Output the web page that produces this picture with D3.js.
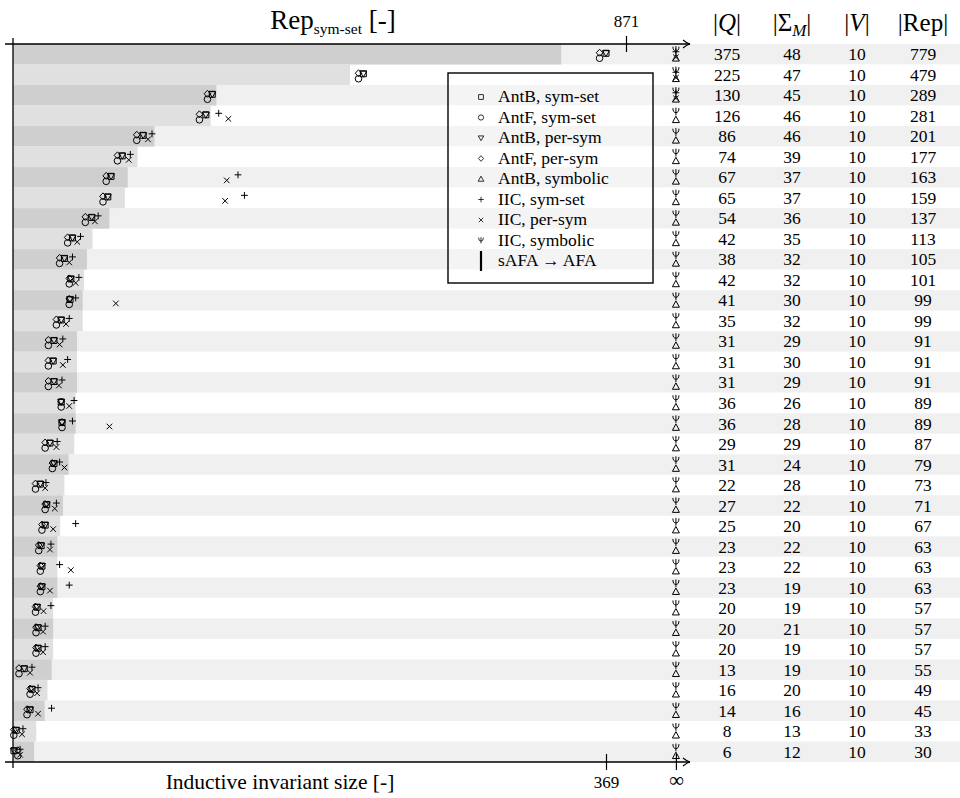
<!DOCTYPE html>
<html><head><meta charset="utf-8">
<script src="https://cdn.jsdelivr.net/npm/d3@7"></script>
<style>
body{margin:0;background:#fff;}
svg{display:block;font-family:"Liberation Serif","DejaVu Serif",serif;}
</style></head><body>
<svg id="chart" width="960" height="798"></svg>
<script>
const I = Infinity;
// automaton statistics per benchmark
const qStates = [375,225,130,126,86,74,67,65,54,42,38,42,41,35,31,31,31,36,36,29,31,22,27,25,23,23,23,20,20,20,13,16,14,8,6];
const sigmaM  = [48,47,45,46,46,39,37,37,36,35,32,32,30,32,29,30,29,26,28,29,24,28,22,20,22,22,19,19,21,19,19,20,16,13,12];
const varCount = [10,10,10,10,10,10,10,10,10,10,10,10,10,10,10,10,10,10,10,10,10,10,10,10,10,10,10,10,10,10,10,10,10,10,10];
const repSize = [779,479,289,281,201,177,163,159,137,113,105,101,99,99,91,91,91,89,89,87,79,73,71,67,63,63,63,57,57,57,55,49,45,33,30];

// inductive invariant sizes (Infinity = no result)
const antBSymSet   = [369,218,124,120,81,68,61,59,49,37,32,36,35.5,30,25.5,25,25.5,30,30.5,23,25.5,17,21,20,17.5,18,18,15,15.6,15.6,7,11.8,10.6,2,0.6];
const antFSymSet   = [365,215,121,116,77,65,58,56,45,34,29,35,35,27,22,22,22,30,30.5,20,24.5,14,20,18,16,17,17,14,14.3,14.3,3.7,10.6,8.7,0.5,3];
const antBPerSym   = [369,218,124,120,81,68,61,59,49,37,32,36,35.5,30,25.5,25,25.5,30,30.5,23,25.5,17,21,20,17.5,18,18,15,15.6,15.6,7,11.8,10.6,2,0.6];
const antFPerSym   = [365,215,121,116,77,65,58,56,45,34,29,35,35,27,22,22,22,30,30.5,20,24.5,14,20,18,16,17,17,14,14.3,14.3,3.7,10.6,8.7,0.5,3];
const antBSymbolic = [I,I,I,I,I,I,I,I,I,I,I,I,I,I,I,I,I,I,I,I,I,I,I,I,I,I,I,I,I,I,I,I,I,I,I];
const iicSymSet    = [I,I,I,128,86.5,73,140,144,53,42,37,41,39,35,31,34,30.5,38,37,27.5,29,20.5,27,39,23.6,29,35,23.6,20,20,11.8,15.6,24,6.2,4.4];
const iicPerSym    = [I,I,I,134,84,72,133,132,51,40,35,39,64,33,29,31,28.6,35,60,27,32,20,26,25,23,36,23,19,18.7,18.7,10.6,15,15.6,5.6,4.4];
const iicSymbolic  = [I,I,I,I,I,I,I,I,I,I,I,I,I,I,I,I,I,I,I,I,I,I,I,I,I,I,I,I,I,I,I,I,I,I,I];

const repTicks = [871];
const invTicks = [369];
const INF_SLOT = 412.5;   // where "no result" is placed on the invariant axis

const svg = d3.select("#chart");
const W = 960;
const plotLeft = 13, plotTop = 44, plotBottom = 762;

const xRep = d3.scaleLinear().domain([0, 871]).range([plotLeft, 626]);
const xInv = d3.scaleLinear().domain([0, 369]).range([plotLeft, 606]);
const y = d3.scaleBand().domain(d3.range(repSize.length)).range([plotTop, plotBottom]).padding(0);
const invX = v => xInv(Number.isFinite(v) ? v : INF_SLOT);

// row stripes
svg.append("g").selectAll("rect").data(repSize).join("rect")
  .attr("x", plotLeft).attr("y", (d,i) => y(i))
  .attr("width", W - plotLeft).attr("height", y.bandwidth())
  .attr("fill", (d,i) => i % 2 === 0 ? "#f0f0f0" : "#ffffff");

// Rep bars
svg.append("g").selectAll("rect").data(repSize).join("rect")
  .attr("x", xRep(0)).attr("y", (d,i) => y(i))
  .attr("width", d => xRep(d) - xRep(0)).attr("height", y.bandwidth())
  .attr("fill", (d,i) => i % 2 === 0 ? "#cfcfcf" : "#e0e0e0");

// marker shapes
const shapes = {
  square:  "M-3,-3H3V3H-3Z",
  circle:  "M3.3,0A3.3,3.3 0 1 1 -3.3,0A3.3,3.3 0 1 1 3.3,0Z",
  triDown: "M-3.4,-2.6L3.4,-2.6L0,3.4Z",
  diamond: "M0,-3.5L3.3,0L0,3.5L-3.3,0Z",
  triUp:   "M0,-3.6L3.5,2.8L-3.5,2.8Z",
  plus:    "M-3.4,0H3.4M0,-3.4V3.4",
  cross:   "M-2.8,-2.8L2.8,2.8M-2.8,2.8L2.8,-2.8",
  psi:     "M-3,-3.6Q-3,0.8 0,0.8Q3,0.8 3,-3.6M0,-4.2V3.6"
};

const series = [
  {name: "AntB, sym-set",  data: antBSymSet,   shape: "square",  dy: -1},
  {name: "AntF, sym-set",  data: antFSymSet,   shape: "circle",  dy: 4},
  {name: "AntB, per-sym",  data: antBPerSym,   shape: "triDown", dy: -1},
  {name: "AntF, per-sym",  data: antFPerSym,   shape: "diamond", dy: -1.5},
  {name: "AntB, symbolic", data: antBSymbolic, shape: "triUp",   dy: 4},
  {name: "IIC, sym-set",   data: iicSymSet,    shape: "plus",    dy: -2.5},
  {name: "IIC, per-sym",   data: iicPerSym,    shape: "cross",   dy: 3},
  {name: "IIC, symbolic",  data: iicSymbolic,  shape: "psi",     dy: -4}
];

const marks = svg.append("g").attr("fill", "none").attr("stroke", "#000").attr("stroke-width", 1);
series.forEach(s => {
  marks.append("g").selectAll("path").data(s.data).join("path")
    .attr("d", shapes[s.shape])
    .attr("transform", (d,i) => `translate(${invX(d)},${y(i) + y.bandwidth()/2 + s.dy})`);
});

// axes
const arrow = svg.append("defs").append("marker")
  .attr("id", "arr").attr("viewBox", "-6 -5 10 10").attr("markerWidth", 10).attr("markerHeight", 10)
  .attr("refX", 2).attr("refY", 0).attr("orient", "auto").attr("markerUnits", "userSpaceOnUse");
arrow.append("path").attr("d", "M-5,-4Q-1,-0.6 2,0Q-1,0.6 -5,4").attr("fill", "none").attr("stroke", "#000").attr("stroke-width", 1.1);

const axisG = svg.append("g").attr("stroke", "#000").attr("stroke-width", 1.3);
axisG.append("line").attr("x1", 5).attr("x2", 690).attr("y1", plotTop).attr("y2", plotTop).attr("marker-end", "url(#arr)");
axisG.append("line").attr("x1", 5).attr("x2", 690).attr("y1", plotBottom).attr("y2", plotBottom).attr("marker-end", "url(#arr)");
axisG.append("line").attr("x1", plotLeft).attr("x2", plotLeft).attr("y1", plotTop - 6).attr("y2", plotBottom + 6);

const topAxis = svg.append("g").attr("transform", `translate(0,${plotTop})`)
  .call(d3.axisTop(xRep).tickValues(repTicks).tickSize(8).tickPadding(9));
const botAxis = svg.append("g").attr("transform", `translate(0,${plotBottom})`)
  .call(d3.axisBottom(xInv).tickValues(invTicks.concat([INF_SLOT])).tickSize(8).tickPadding(6)
        .tickFormat(d => d === INF_SLOT ? "∞" : d3.format("d")(d)));
[topAxis, botAxis].forEach(g => {
  g.select(".domain").remove();
  g.selectAll(".tick line").attr("y1", -8).attr("y2", 8).attr("stroke-width", 1.2);
  g.selectAll(".tick text").attr("font-family", "Liberation Serif, serif").attr("font-size", 17).attr("fill", "#000");
});
botAxis.selectAll(".tick text").filter(d => d === INF_SLOT).attr("font-size", 21).attr("dy", "0.5em");

// axis titles
const tTop = svg.append("text").attr("x", 333).attr("y", 29).attr("text-anchor", "middle").attr("font-size", 27);
tTop.append("tspan").text("Rep");
tTop.append("tspan").attr("font-size", 15.5).attr("dy", 5).text("sym-set");
tTop.append("tspan").attr("dy", -5).text(" [-]");
svg.append("text").attr("x", 280).attr("y", 789).attr("text-anchor", "middle").attr("font-size", 21.5)
  .text("Inductive invariant size [-]");

// table
const cols = [
  {x: 727, data: qStates},
  {x: 792, data: sigmaM},
  {x: 857, data: varCount},
  {x: 923, data: repSize}
];
const tbl = svg.append("g").attr("font-size", 17.5).attr("text-anchor", "middle");
cols.forEach(c => {
  tbl.append("g").selectAll("text").data(c.data).join("text")
    .attr("x", c.x).attr("y", (d,i) => y(i) + y.bandwidth()/2 + 6).text(d => d);
});
const hdr = svg.append("g").attr("font-size", 25).attr("text-anchor", "middle");
let h = hdr.append("text").attr("x", 727).attr("y", 31);
h.append("tspan").text("|"); h.append("tspan").attr("font-style", "italic").text("Q"); h.append("tspan").text("|");
h = hdr.append("text").attr("x", 792).attr("y", 31);
h.append("tspan").text("|Σ"); h.append("tspan").attr("font-style", "italic").attr("font-size", 17).attr("dy", 5).text("M");
h.append("tspan").attr("dy", -5).text("|");
h = hdr.append("text").attr("x", 857).attr("y", 31);
h.append("tspan").text("|"); h.append("tspan").attr("font-style", "italic").text("V"); h.append("tspan").text("|");
hdr.append("text").attr("x", 923).attr("y", 31).text("|Rep|");

// legend
const lg = svg.append("g").attr("transform", "translate(448,73)");
lg.append("rect").attr("width", 205).attr("height", 210)
  .attr("fill", "#fff").attr("fill-opacity", 0.25).attr("stroke", "#000").attr("stroke-width", 1.4);
const items = series.map(s => ({name: s.name, shape: s.shape})).concat([{name: "sAFA → AFA", shape: "bar"}]);
const li = lg.selectAll("g.item").data(items).join("g").attr("class", "item")
  .attr("transform", (d,i) => `translate(33,${24 + i*20.5})`);
li.append("path")
  .attr("d", d => d.shape === "bar" ? "M0,-10V10" : shapes[d.shape])
  .attr("transform", d => d.shape === "bar" ? null : "scale(0.8)")
  .attr("fill", "none").attr("stroke", "#000").attr("stroke-width", d => d.shape === "bar" ? 2.2 : 1);
li.append("text").attr("x", 17).attr("y", 5).attr("font-size", 17.5).text(d => d.name);
</script>
</body></html>
